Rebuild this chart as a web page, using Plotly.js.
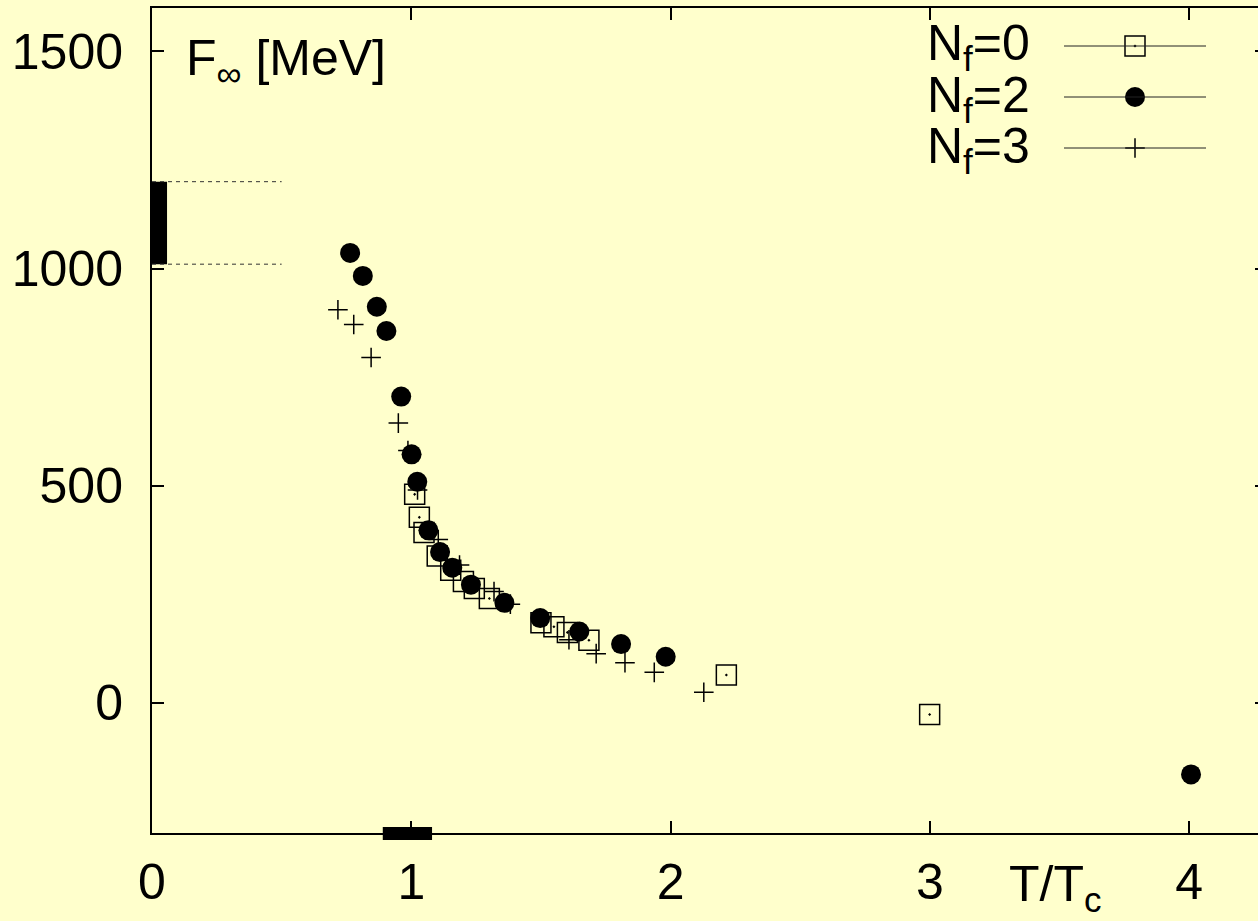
<!DOCTYPE html>
<html><head><meta charset="utf-8">
<script src="https://cdn.plot.ly/plotly-3.0.1.min.js"></script>
<style>
html,body{margin:0;padding:0;background:#ffffcc;overflow:hidden;width:1258px;height:921px}
#wrap{width:1258px;height:921px;overflow:hidden;position:relative}
#plot{width:1290px;height:921px}
</style>
</head><body><div id="wrap"><div id="plot"></div></div>
<script>
// ---- data ----
const nf0X = [1.013, 1.031, 1.049, 1.100, 1.152, 1.201, 1.243, 1.301, 1.500, 1.550, 1.602, 1.685, 2.215, 2.999];
const nf0Y = [480, 427, 392, 338, 305, 279, 263, 240, 184, 175, 162, 144, 64, -27];

const nf2X = [0.764, 0.813, 0.867, 0.904, 0.961, 1.001, 1.023, 1.066, 1.111, 1.158, 1.230, 1.359, 1.497, 1.648, 1.809, 1.981, 4.007];
const nf2Y = [1036, 983, 912, 856, 705, 572, 509, 397, 347, 311, 272, 230, 195, 164, 135, 106, -165];

const nf3X = [0.717, 0.778, 0.845, 0.950, 0.987, 1.024, 1.104, 1.186, 1.319, 1.382, 1.608, 1.713, 1.824, 1.937, 2.128];
const nf3Y = [905, 871, 795, 644, 581, 490, 376, 317, 256, 227, 145, 113, 92, 70, 24];

const t0BandY = [1010, 1200];     // band on the F axis
const tcBandX = [0.89, 1.08];     // band on the T/Tc axis

const xTicks = [0, 1, 2, 3, 4];
const yTicks = [0, 500, 1000, 1500];
const xRange = [0, 4.30];
const yRange = [-300, 1600];

const legendLabels = ['N<sub>f</sub>=0', 'N<sub>f</sub>=2', 'N<sub>f</sub>=3'];
const yTitle = 'F<sub>∞</sub> [MeV]';
const xTitle = 'T/T<sub>c</sub>';

// ---- layout constants (pixels) ----
const W = 1290, H = 921;
const L = 152, R = 23, T = 8, B = 88;
const PW = W - L - R, PH = H - T - B;
const BG = '#ffffcc';
const FONT = '"Liberation Sans", Arial, Helvetica, sans-serif';
const FS = 50;

const styles = [
  {symbol: 'square-open-dot', size: 20, color: '#000', line: {color: '#000', width: 1.5}},
  {symbol: 'circle', size: 20, color: '#000', line: {width: 0}},
  {symbol: 'cross-thin', size: 14, color: '#000', line: {color: '#000', width: 1.5}}
];

const traces = [
  {x: nf0X, y: nf0Y, type: 'scatter', mode: 'markers', marker: styles[0], showlegend: false, hoverinfo: 'skip'},
  {x: nf2X, y: nf2Y, type: 'scatter', mode: 'markers', marker: styles[1], showlegend: false, hoverinfo: 'skip'},
  {x: nf3X, y: nf3Y, type: 'scatter', mode: 'markers', marker: styles[2], showlegend: false, hoverinfo: 'skip'}
];

// custom legend (text left, sample right), in pixel-like overlay axes
const legTextRight = 1032 - L;
const legLine0 = 1064 - L, legLine1 = 1206 - L, legMark = 1135 - L;
const legRow0 = 46 - T, legStep = 51;
const shapes = [];
const annotations = [];
legendLabels.forEach((lab, i) => {
  const yy = legRow0 + i * legStep;
  shapes.push({type: 'line', xref: 'x2', yref: 'y2', x0: legLine0, x1: legLine1, y0: yy, y1: yy,
               line: {color: '#222', width: 1}});
  traces.push({x: [legMark], y: [yy], xaxis: 'x2', yaxis: 'y2', type: 'scatter', mode: 'markers',
               marker: styles[i], showlegend: false, hoverinfo: 'skip'});
  annotations.push({text: lab, xref: 'paper', yref: 'paper', x: legTextRight / PW, y: 1 - (yy + 1) / PH,
                    xanchor: 'right', yanchor: 'middle', showarrow: false,
                    font: {family: FONT, size: FS, color: '#000'}});
});

// bands
shapes.push({type: 'rect', xref: 'x', yref: 'y', x0: 0, x1: 0.058, y0: t0BandY[0], y1: t0BandY[1],
             fillcolor: '#000', line: {width: 0}});
t0BandY.forEach(v => shapes.push({type: 'line', xref: 'x', yref: 'y', x0: 0, x1: 0.5, y0: v, y1: v,
             line: {color: '#333', width: 1, dash: '4px,4px'}}));
shapes.push({type: 'rect', xref: 'x', yref: 'paper', x0: tcBandX[0], x1: tcBandX[1], y0: -7 / PH, y1: 6 / PH,
             fillcolor: '#000', line: {width: 0}});

annotations.push({text: yTitle, xref: 'paper', yref: 'paper', x: (184 - L) / PW, y: 1 - (62 - T) / PH,
                  xanchor: 'left', yanchor: 'middle', showarrow: false,
                  font: {family: FONT, size: FS, color: '#000'}});
annotations.push({text: xTitle, xref: 'paper', yref: 'paper', x: (1007 - L) / PW, y: -(887 - T - PH) / PH,
                  xanchor: 'left', yanchor: 'middle', showarrow: false,
                  font: {family: FONT, size: FS, color: '#000'}});

const axisCommon = {
  showgrid: false, zeroline: false, showline: true, linecolor: '#000', linewidth: 2,
  mirror: 'ticks', ticks: 'inside', ticklen: 12, tickwidth: 2, tickcolor: '#000',
  tickfont: {family: FONT, size: FS, color: '#000'}, fixedrange: true
};

const layout = {
  width: W, height: H,
  margin: {l: L, r: R, t: T, b: B, pad: 0},
  paper_bgcolor: BG, plot_bgcolor: BG,
  showlegend: false,
  xaxis: Object.assign({}, axisCommon, {range: xRange, tickmode: 'array', tickvals: xTicks,
          ticktext: xTicks.map(String), ticklabelstandoff: 4}),
  yaxis: Object.assign({}, axisCommon, {range: yRange, tickmode: 'array', tickvals: yTicks,
          ticktext: yTicks.map(String), ticklabelstandoff: 17}),
  xaxis2: {overlaying: 'x', range: [0, PW], visible: false, fixedrange: true},
  yaxis2: {overlaying: 'y', range: [PH, 0], visible: false, fixedrange: true},
  shapes: shapes,
  annotations: annotations
};

Plotly.newPlot('plot', traces, layout, {staticPlot: true, displayModeBar: false});
</script>
</body></html>
